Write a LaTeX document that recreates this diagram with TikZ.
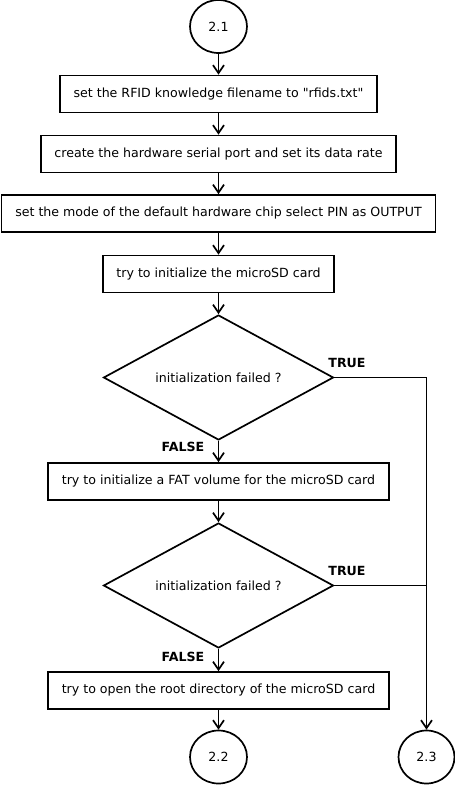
\documentclass[tikz,border=0pt]{standalone}
\usepackage{fontspec}
\setmainfont{DejaVu Sans}
\newfontfamily\djv{DejaVu Sans}
\usetikzlibrary{shapes.geometric,arrows.meta}
\begin{document}
\begin{tikzpicture}[x=1pt,y=-1pt,
  every node/.style={font=\djv\fontsize{12.6}{14}\selectfont},
  box/.style={draw,line width=1.7pt,rectangle,inner sep=0pt,minimum height=37pt},
  conn/.style={draw,ellipse,line width=1.7pt,inner sep=0pt,minimum width=57pt,minimum height=53pt},
  dec/.style={draw,diamond,line width=1.7pt,inner sep=0pt,aspect=1.84,minimum width=230pt,minimum height=125pt},
  lab/.style={font=\djv\fontsize{12.6}{14}\selectfont\bfseries},
  arr/.style={line width=1.7pt,-{Straight Barb[length=8pt,width=11pt,line width=1.7pt]}},
  ln/.style={line width=1.7pt}]
\useasboundingbox (0,0) rectangle (455,785);
\node[conn] (c21) at (218.5,26.5) {2.1};
\node[box,minimum width=317pt] (b1) at (218.5,94) {set the RFID knowledge filename to "rfids.txt"};
\node[box,minimum width=355pt] (b2) at (218.5,154) {create the hardware serial port and set its data rate};
\node[box,minimum width=434pt] (b3) at (218.5,213.5) {set the mode of the default hardware chip select PIN as OUTPUT};
\node[box,minimum width=231pt] (b4) at (218.5,274) {try to initialize the microSD card};
\node[dec] (d1) at (218.5,377.5) {initialization failed ?};
\node[box,minimum width=341pt] (b5) at (218.5,481.5) {try to initialize a FAT volume for the microSD card};
\node[dec] (d2) at (218.5,585.5) {initialization failed ?};
\node[box,minimum width=341pt] (b6) at (218.5,690.5) {try to open the root directory of the microSD card};
\node[conn] (c22) at (218.5,757) {2.2};
\node[conn,minimum width=56pt] (c23) at (426.5,757) {2.3};
\node[lab] (t1) at (347,362.5) {TRUE};
\node[lab] (f1) at (183,447) {FALSE};
\node[lab] (t2) at (347,571) {TRUE};
\node[lab] (f2) at (183,656.5) {FALSE};
\coordinate (j2) at (d2.east -| c23.north);
\draw[arr] (c21.south) -- (b1.north);
\draw[arr] (b1.south) -- (b2.north);
\draw[arr] (b2.south) -- (b3.north);
\draw[arr] (b3.south) -- (b4.north);
\draw[arr] (b4.south) -- (d1.north);
\draw[arr] (d1.south) -- (b5.north);
\draw[arr] (b5.south) -- (d2.north);
\draw[arr] (d2.south) -- (b6.north);
\draw[arr] (b6.south) -- (c22.north);
\draw[arr] (d1.east) -| (c23.north);
\draw[ln] (d2.east) -- (j2);
\end{tikzpicture}
\end{document}
